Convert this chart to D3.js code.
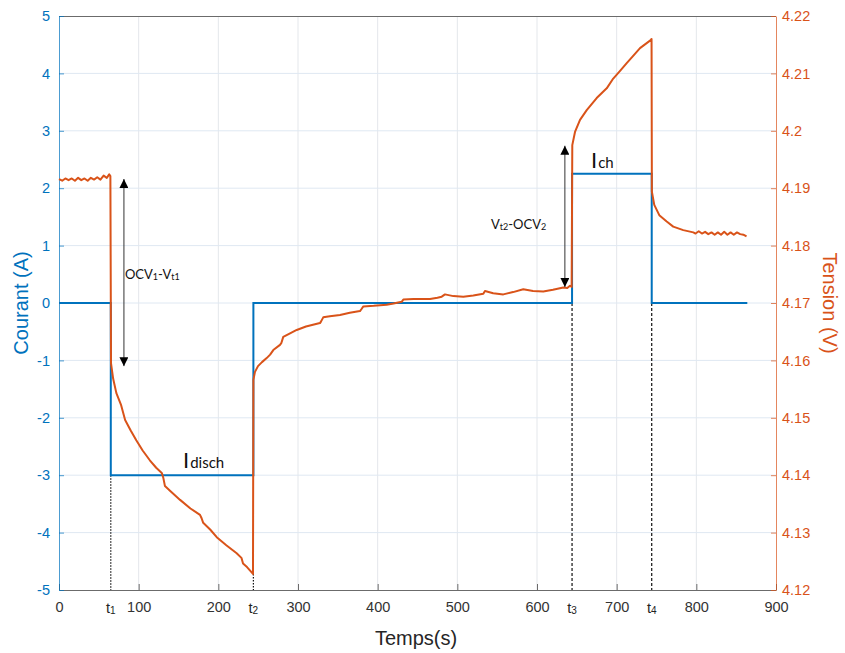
<!DOCTYPE html>
<html><head><meta charset="utf-8">
<script src="https://cdn.jsdelivr.net/npm/d3@7"></script>
<style>body{margin:0;background:#fff;} svg{display:block;}</style>
</head><body>
<script>
// ---- data ----
const xTicks = [0,100,200,300,400,500,600,700,800,900];
const currentTicks = [-5,-4,-3,-2,-1,0,1,2,3,4,5];
const voltTicks = [4.12,4.13,4.14,4.15,4.16,4.17,4.18,4.19,4.2,4.21,4.22];
const eventTimes = [65, 244, 644, 744];
const eventLabels = ["1","2","3","4"];

const currentT = [0, 65, 65, 244, 244, 644, 644, 744, 744, 864];
const currentA = [0, 0, -3, -3, 0, 0, 2.25, 2.25, 0, 0];

const voltT = [0,4,8,12,16,20,24,28,32,36,40,44,48,52,56,60,63,64.5,
  65.3,68,72,78,83,90,97,105,114,122,129,131,133,140,152,165,177,179,181,190,198,210,223,229,231,236,241,243.5,
  244,246,249.8,254.8,260.7,265,269,277.4,279,281.5,290,298.4,310,327.6,329,331.7,340,352.7,365,377.8,380,382,395,411.3,420,430.1,432.2,445,465.7,475,480.4,484.5,495,507.5,520,532.6,534.7,545,557.7,570,582.8,595,607.9,620,633,638,641.4,643.5,
  644.3,647.7,654,662.4,674.9,687.5,695.7,704,712.6,721,729.3,736,742.7,743.8,
  744.2,747.2,753.5,762.8,771,783.6,796.2,799,803,807,811,815,819,823,827,831,835,839,843,847,851,855,859,863];
const voltV = [4.1916,4.1913,4.1917,4.1914,4.1917,4.1913,4.1918,4.1914,4.1917,4.1913,4.1918,4.1915,4.1919,4.1915,4.1922,4.1918,4.1924,4.1921,
  4.1595,4.1568,4.1543,4.1522,4.1496,4.1478,4.1461,4.1443,4.1426,4.1413,4.1404,4.1395,4.1381,4.1372,4.1357,4.1342,4.1331,4.1325,4.1317,4.1305,4.1292,4.1278,4.1264,4.1256,4.1246,4.1240,4.1232,4.1228,
  4.1566,4.1580,4.1590,4.1597,4.1604,4.1610,4.1618,4.1627,4.1630,4.1641,4.1647,4.1653,4.1659,4.1665,4.1668,4.1675,4.1677,4.1679,4.1683,4.1686,4.1690,4.1694,4.1695,4.1697,4.1699,4.1702,4.1706,4.1707,4.1707,4.1709,4.1711,4.1715,4.1712,4.1711,4.1713,4.1716,4.1721,4.1717,4.1715,4.1719,4.1724,4.1721,4.1720,4.1723,4.1727,4.1726,4.1730,4.1728,
  4.1975,4.1998,4.2019,4.2036,4.2057,4.2074,4.2091,4.2104,4.2118,4.2131,4.2144,4.2151,4.2158,4.2160,
  4.1894,4.1871,4.1853,4.1842,4.1833,4.1827,4.1823,4.1821,4.1825,4.1821,4.1824,4.1820,4.1823,4.1819,4.1823,4.1819,4.1824,4.1819,4.1823,4.1819,4.1823,4.1820,4.1819,4.1816];

const ocv1 = {t: 81.5, v0: 4.1916, v1: 4.1590};
const ocv2 = {t: 635, v0: 4.1728, v1: 4.1974};

// ---- layout ----
const W = 845, H = 653;
const L = 59, R = 776, T = 16, B = 590;
const blue = "#0072BD", orange = "#D95319";

const svg = d3.select("body").append("svg").attr("width", W).attr("height", H)
  .style("font-family", "Arial, 'Liberation Sans', sans-serif");

const x = d3.scaleLinear().domain([0, 900]).range([L, R]);
const yA = d3.scaleLinear().domain([-5, 5]).range([B, T]);
const yV = d3.scaleLinear().domain([4.12, 4.22]).range([B, T]);
const fmt = d => String(d);

// grid
const grid = svg.append("g");
grid.selectAll(".gx").data(xTicks.slice(1, -1)).join("line")
  .attr("x1", d => x(d)).attr("x2", d => x(d)).attr("y1", T).attr("y2", B)
  .attr("stroke", "#e4e7eb").attr("stroke-width", 1);
grid.selectAll(".gy").data(currentTicks.slice(1, -1)).join("line")
  .attr("x1", L).attr("x2", R).attr("y1", d => yA(d)).attr("y2", d => yA(d))
  .attr("stroke", "#dfe8f2").attr("stroke-width", 1);

// frame top
svg.append("line").attr("x1", L).attr("x2", R).attr("y1", T+0.5).attr("y2", T+0.5).attr("stroke", "#6b6b6b");

// axes
const gx = svg.append("g").attr("transform", `translate(0,${B})`)
  .call(d3.axisBottom(x).tickValues(xTicks).tickSize(-6).tickPadding(12).tickSizeOuter(0).tickFormat(fmt));
gx.select(".domain").attr("stroke", "#6b6b6b");
gx.selectAll(".tick line").attr("stroke", "#6b6b6b");
gx.selectAll("text").attr("fill", "#333").attr("font-size", 14.5);

const gl = svg.append("g").attr("transform", `translate(${L},0)`)
  .call(d3.axisLeft(yA).tickValues(currentTicks).tickSize(-5).tickPadding(9).tickSizeOuter(0).tickFormat(fmt));
gl.select(".domain").attr("stroke", blue).attr("stroke-opacity", 0.7);
gl.selectAll(".tick line").attr("stroke", blue).attr("stroke-opacity", 0.7);
gl.selectAll("text").attr("fill", blue).attr("font-size", 14.5);

const gr = svg.append("g").attr("transform", `translate(${R},0)`)
  .call(d3.axisRight(yV).tickValues(voltTicks).tickSize(-5).tickPadding(6).tickSizeOuter(0).tickFormat(d3.format("~g")));
gr.select(".domain").attr("stroke", orange).attr("stroke-opacity", 0.7);
gr.selectAll(".tick line").attr("stroke", orange).attr("stroke-opacity", 0.7);
gr.selectAll("text").attr("fill", orange).attr("font-size", 14.5);

// event dashed lines
const evTop = [-3, null, 0, 0];
svg.append("g").selectAll("line").data(eventTimes).join("line")
  .attr("x1", d => x(d)).attr("x2", d => x(d))
  .attr("y1", (d, i) => i === 1 ? yV(4.1228) : yA(evTop[i]))
  .attr("y2", B)
  .attr("stroke", "#111").attr("stroke-width", 1.2)
  .attr("stroke-dasharray", (d, i) => i < 2 ? "1.5,1.5" : "3,2");

// event labels on x axis
const evl = svg.append("g").selectAll("text").data(eventTimes).join("text")
  .attr("x", d => x(d)).attr("y", B + 23).attr("text-anchor", "middle")
  .attr("fill", "#222").attr("font-size", 14.5);
evl.append("tspan").text("t");
evl.append("tspan").attr("font-size", 10).attr("dy", 1).text((d, i) => eventLabels[i]);

// lines
svg.append("path").datum(currentT.map((t, i) => [t, currentA[i]]))
  .attr("fill", "none").attr("stroke", blue).attr("stroke-width", 2)
  .attr("d", d3.line().x(d => x(d[0])).y(d => yA(d[1])));
svg.append("path").datum(voltT.map((t, i) => [t, voltV[i]]))
  .attr("fill", "none").attr("stroke", orange).attr("stroke-width", 2)
  .attr("stroke-linejoin", "round")
  .attr("d", d3.line().x(d => x(d[0])).y(d => yV(d[1])));

// arrow marker
const defs = svg.append("defs");
defs.append("marker").attr("id", "ah").attr("viewBox", "0 0 10 10")
  .attr("refX", 10).attr("refY", 5).attr("markerWidth", 9).attr("markerHeight", 9)
  .attr("markerUnits", "userSpaceOnUse").attr("orient", "auto-start-reverse")
  .append("path").attr("d", "M0,0 L10,5 L0,10 Z").attr("fill", "#000");

[ocv1, ocv2].forEach(a => {
  svg.append("line").attr("x1", x(a.t)).attr("x2", x(a.t))
    .attr("y1", yV(a.v0)).attr("y2", yV(a.v1))
    .attr("stroke", "#333").attr("stroke-width", 1)
    .attr("marker-start", "url(#ah)").attr("marker-end", "url(#ah)");
});

// annotations
const ann = svg.append("g").attr("font-family", "Lato, 'Open Sans', sans-serif").attr("fill", "#111");
const a1 = ann.append("text").attr("x", x(ocv1.t) + 1).attr("y", 279).attr("font-size", 13);
a1.append("tspan").text("OCV");
a1.append("tspan").attr("font-size", 9).attr("dy", 1).text("1");
a1.append("tspan").attr("dy", -1).text("-V");
a1.append("tspan").attr("font-size", 9).attr("dy", 1).text("t1");

const a2 = ann.append("text").attr("x", 491).attr("y", 229).attr("font-size", 13);
a2.append("tspan").text("V");
a2.append("tspan").attr("font-size", 9).attr("dy", 1).text("t2");
a2.append("tspan").attr("dy", -1).text("-OCV");
a2.append("tspan").attr("font-size", 9).attr("dy", 1).text("2");

const a3 = ann.append("text").attr("x", 183).attr("y", 468).attr("font-size", 22);
a3.append("tspan").text("I");
a3.append("tspan").attr("font-size", 15).attr("dx", 1).text("disch");

const a4 = ann.append("text").attr("x", 591).attr("y", 168).attr("font-size", 22);
a4.append("tspan").text("I");
a4.append("tspan").attr("font-size", 15).attr("dx", 1).text("ch");

// axis titles
svg.append("text").attr("transform", `translate(28,${(T + B) / 2}) rotate(-90)`)
  .attr("text-anchor", "middle").attr("fill", blue).attr("font-size", 20).text("Courant (A)");
svg.append("text").attr("transform", `translate(823,${(T + B) / 2}) rotate(90)`)
  .attr("text-anchor", "middle").attr("fill", orange).attr("font-size", 20).text("Tension (V)");
svg.append("text").attr("x", 416).attr("y", 645)
  .attr("text-anchor", "middle").attr("fill", "#262626").attr("font-size", 20).text("Temps(s)");
</script>
</body></html>
